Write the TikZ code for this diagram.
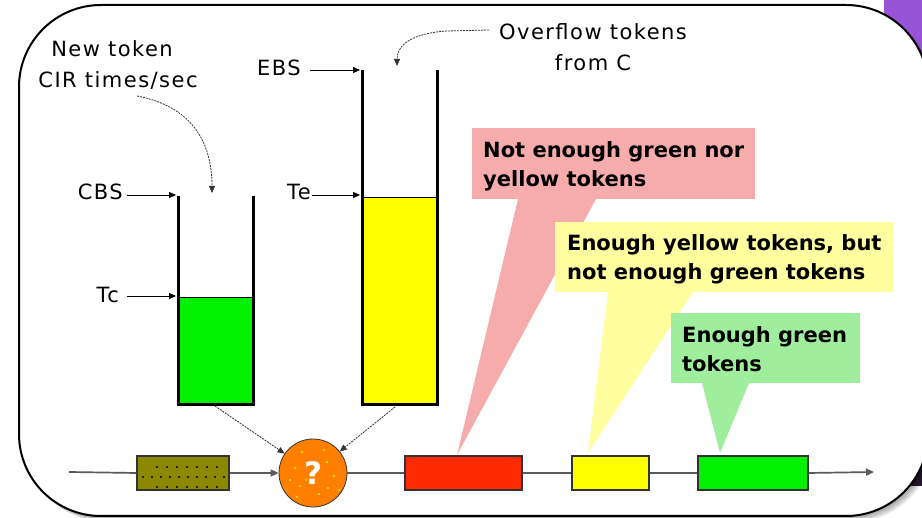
\documentclass[tikz,border=0pt]{standalone}
\usepackage{fontspec}
\setmainfont{DejaVu Sans}
\usetikzlibrary{arrows.meta}
\definecolor{slidepurple}{RGB}{152,84,214}
\definecolor{slidedark}{RGB}{42,26,52}
\definecolor{olivebox}{RGB}{140,137,0}
\definecolor{quorange}{RGB}{255,128,0}
\definecolor{redbox}{RGB}{255,42,0}
\definecolor{yellowbox}{RGB}{255,255,0}
\definecolor{greenbox}{RGB}{0,240,0}
\definecolor{redtint}{RGB}{247,172,172}
\definecolor{yellowtint}{RGB}{255,255,160}
\definecolor{greentint}{RGB}{158,238,158}
\definecolor{flowgray}{RGB}{90,90,90}
\begin{document}
\begin{tikzpicture}[x=1pt,y=-1pt,
  lbl/.style={font={\fontsize{21}{30}\selectfont\addfontfeatures{LetterSpace=7}},inner sep=0pt},
  note/.style={font={\fontsize{21}{29}\selectfont\bfseries},inner sep=0pt,anchor=base west},
  pointer/.style={-{Triangle[length=7pt,width=6pt]},line width=0.9pt},
  feed/.style={-{Triangle[length=7pt,width=6pt]},line width=0.8pt,black!80,dash pattern=on 2pt off 1pt},
  wall/.style={line width=3pt,line join=miter},
  token/.style={draw=black!80,line width=1.2pt,minimum height=34pt,inner sep=0pt},
  flow/.style={line width=1.7pt,flowgray},
  flowtip/.style={flow,-{Triangle[length=8pt,width=7pt]}},
]
\useasboundingbox (0,0) rectangle (922,518);
\fill[white] (0,0) rectangle (922,518);

% slide background peeking out at the right
\fill[slidepurple] (884,0) rectangle (922,70);
\fill[slidedark] (896,300) rectangle (922,486);

% framed panel with a soft drop shadow
\foreach \i in {1,...,7}
  \fill[black,opacity=0.06,rounded corners=82pt,shift={(\i*0.9,\i*0.9)}] (19,5) rectangle (928,516);
\draw[line width=2pt,fill=white,rounded corners=82pt] (19,5) rectangle (928,516);

% callouts
\fill[redtint] (472,128) rectangle (755,199);
\fill[redtint] (518,199) -- (596,199) -- (457,455) -- cycle;
\fill[yellowtint] (555,222) rectangle (893,292);
\fill[yellowtint] (608,292) -- (693,292) -- (588,453) -- cycle;
\fill[greentint] (671,313) rectangle (860,383);
\fill[greentint] (702,383) -- (749,383) -- (720,453) -- cycle;

\node[note] (n1a) at (483,158) {Not enough green nor};
\node[note] (n1b) at (483,187) {yellow tokens};
\node[note] (n2a) at (567,251) {Enough yellow tokens, but};
\node[note] (n2b) at (567,280) {not enough green tokens};
\node[note] (n3a) at (682,343) {Enough green};
\node[note] (n3b) at (682,372) {tokens};

% committed bucket (C)
\fill[greenbox] (178,297) rectangle (253,405);
\draw[line width=0.8pt] (178,297) -- (253,297);
\draw[wall] (178,196) -- (178,405) -- (253,405) -- (253,196);
% excess bucket (E)
\fill[yellowbox] (362,197) rectangle (437,405);
\draw[line width=0.8pt] (362,197) -- (437,197);
\draw[wall] (362,70) -- (362,405) -- (437,405) -- (437,70);

% level labels
\node[lbl,anchor=base east] (cbs) at (123,200) {CBS};
\node[lbl,anchor=base east] (tc) at (119,303) {Tc};
\node[lbl,anchor=base east] (ebs) at (301,76) {EBS};
\node[lbl,anchor=base east] (te) at (311,200) {Te};
\coordinate (cbsT) at (176,195);
\coordinate (tcT) at (176,296);
\coordinate (ebsT) at (360,70);
\coordinate (teT) at (360,195);
\draw[pointer] ([xshift=4pt]cbs.east |- cbsT) -- (cbsT);
\draw[pointer] ([xshift=8pt]tc.east |- tcT) -- (tcT);
\draw[pointer] ([xshift=9pt]ebs.east |- ebsT) -- (ebsT);
\draw[pointer] ([xshift=1pt]te.east |- teT) -- (teT);

% token sources
\node[lbl,anchor=base] (newtok) at (112,57) {New token};
\node[lbl,anchor=base] (cir) at (118,88) {CIR times/sec};
\node[lbl,anchor=base] (ovf) at (593,40) {Overflow tokens};
\node[lbl,anchor=base] (fromc) at (593,71) {from C};
\coordinate (cirS) at (137,96);
\coordinate (cIn) at (212,193);
\coordinate (ovfS) at (489,30);
\coordinate (eIn) at (397,66);
\draw[feed] (cirS) .. controls (190,106) and (212,140) .. (cIn);
\draw[feed] (ovfS) -- (447,31) .. controls (414,33) and (397,44) .. (eIn);

% packet flow
\coordinate (src) at (69,472);
\coordinate (dst) at (874,472);
\node[token,fill=olivebox,minimum width=92pt] (pkt) at (183,473) {};
\node[circle,draw=black!80,line width=0.8pt,fill=quorange,minimum size=68pt,inner sep=0pt,
      font={\fontsize{31}{31}\selectfont\bfseries},text=white] (q) at (313,473) {?};
\node[token,fill=redbox,minimum width=117pt] (red) at (463.5,473) {};
\node[token,fill=yellowbox,minimum width=77pt] (yel) at (610.5,473) {};
\node[token,fill=greenbox,minimum width=110pt] (grn) at (753,473) {};

\foreach \x in {157,167,...,217} \fill[black] (\x,467) circle (1.1);
\foreach \x in {143,152,...,224} \fill[black] (\x,477) circle (1.1);
\foreach \x in {157,167,...,217} \fill[black] (\x,487) circle (1.1);
\foreach \p in {(290,480),(300,486),(295,468),(327,462),(334,476),(328,488),(319,494),(339,490),(297,497),(306,480),(302,452),(324,450)}
  \fill[yellow] \p circle (1.1);

\draw[flow] (src) -- (pkt.west);
\draw[flowtip] (pkt.east) -- (q.west);
\draw[flow] (q.east) -- (red.west);
\draw[flow] (red.east) -- (yel.west);
\draw[flow] (yel.east) -- (grn.west);
\draw[flowtip] (grn.east) -- (dst);

% buckets feeding the decision
\coordinate (cOut) at (215,406);
\coordinate (eOut) at (395,407);
\draw[feed] (cOut) -- (q);
\draw[feed] (eOut) -- (q);
\end{tikzpicture}
\end{document}
